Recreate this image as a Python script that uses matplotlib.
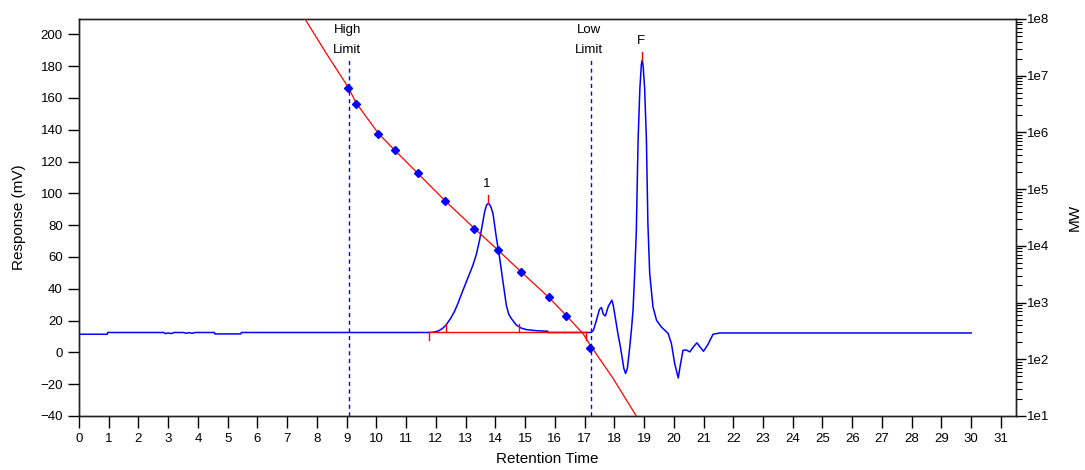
import numpy as np
import matplotlib
matplotlib.use("Agg")
import matplotlib.pyplot as plt
from matplotlib.ticker import LogLocator, NullFormatter, FuncFormatter

plt.rcParams['font.family'] = ['Liberation Sans', 'DejaVu Sans']
plt.rcParams['font.size'] = 9.5

# chromatogram trace (retention time in min, response in mV)
trace_t = [0.0, 0.95, 0.97, 2.85, 2.9, 3.0, 3.1, 3.2, 3.5, 3.6, 3.7, 3.8, 3.9, 4.55, 4.57,
           5.44, 5.46, 11.8, 11.95, 12.1, 12.22, 12.34, 12.5, 12.62, 12.74, 12.9, 13.07,
           13.24, 13.36, 13.47, 13.56, 13.64, 13.71, 13.77, 13.84, 13.92, 14.03, 14.14,
           14.25, 14.37, 14.45, 14.54, 14.71, 14.88, 15.05, 15.4, 15.76, 15.78,
           17.22, 17.3, 17.4, 17.5, 17.57, 17.63, 17.7, 17.8, 17.92, 17.97,
           18.05, 18.12, 18.2, 18.26, 18.32, 18.38, 18.44, 18.52, 18.58, 18.63, 18.69,
           18.74, 18.8, 18.86, 18.91, 18.94, 18.97, 19.02, 19.08, 19.13, 19.19, 19.3,
           19.42, 19.58, 19.81, 19.92, 20.03, 20.15, 20.22, 20.31, 20.42, 20.54, 20.66,
           20.78, 20.9, 21.0, 21.15, 21.32, 21.55, 30.0]
trace_mv = [11.4, 11.4, 12.5, 12.5, 11.8, 12.2, 11.8, 12.5, 12.5, 12.0, 12.4, 12.0, 12.5,
            12.5, 11.6, 11.6, 12.5, 12.5, 12.8, 13.6, 15.0, 17.1, 21.5, 25.5, 30.7, 38.5,
            46.5, 54.5, 61.5, 70.6, 80.0, 88.4, 92.8, 93.7, 92.0, 87.4, 72.7, 60.0, 45.3,
            29.6, 24.0, 21.2, 17.1, 15.2, 14.3, 13.6, 13.3, 12.5,
            12.5, 14.0, 20.2, 27.0, 28.2, 24.0, 22.9, 29.0, 32.8, 29.0, 20.0, 11.9,
            4.0, -2.9, -10.0, -13.3, -10.0, 3.4, 15.0, 26.5, 51.7, 75.8, 133.5, 166.0,
            181.0, 183.8, 180.0, 166.0, 133.5, 81.0, 49.7, 28.6, 20.2, 16.0, 11.9, 5.6,
            -7.0, -16.1, -8.0, 1.3, 1.5, 0.3, 3.5, 6.0, 3.0, 0.7, 5.0, 11.4, 12.2, 12.2]

# calibration standards (retention time, molecular weight)
std_t = [9.06, 9.32, 10.07, 10.61, 11.39, 12.32, 13.29, 14.08, 14.85, 15.80, 16.39, 17.19]
std_mw = [6.0e6, 3.2e6, 9.3e5, 4.9e5, 1.9e5, 6.2e4, 2.0e4, 8.5e3, 3.5e3, 1.23e3, 5.9e2, 1.55e2]

# calibration fit line, log10(MW) against retention time
cal_t = [7.60, 8.32, 9.06, 9.32, 10.07, 10.61, 11.39, 12.32, 13.29, 14.08, 14.85, 15.80,
         16.39, 16.95, 17.19, 17.95, 18.74]
cal_logmw = [8.00, 7.39, 6.79, 6.52, 5.98, 5.69, 5.28, 4.79, 4.31, 3.93, 3.55, 3.09,
             2.77, 2.45, 2.25, 1.67, 1.00]

# peak integration marks
base_start, base_end, base_level = 11.76, 17.06, 12.5
drop_lines = [12.34, 14.81]
peak_names = ["1", "F"]
peak_t = [13.77, 18.94]
peak_top = [93.7, 183.8]

# molecular weight limits
limit_names = ["High", "Low"]
limit_t = [9.07, 17.2]

fig = plt.figure(figsize=(10.85, 4.70), dpi=100)
ax = fig.add_axes([0.0728, 0.1149, 0.8634, 0.8447])

ax.plot(trace_t, trace_mv, color='#0000ff', lw=1.1, zorder=3)

# baseline and drop lines
ax.plot([base_start, base_end], [base_level, base_level], color='#ff0000', lw=1.0, zorder=4)
ax.plot([base_start, base_start], [base_level, base_level - 5], color='#ff0000', lw=1.0, zorder=4)
ax.plot([base_end, base_end], [base_level, base_level - 5], color='#ff0000', lw=1.0, zorder=4)
for t in drop_lines:
    ax.plot([t, t], [base_level, base_level + 5.5], color='#ff0000', lw=1.0, zorder=4)

# apex ticks and peak labels
for name, t, top in zip(peak_names, peak_t, peak_top):
    ax.plot([t, t], [top, top + 5], color='#ff0000', lw=1.0, zorder=4)
    ax.annotate(name, (t, top + 5), xytext=(-1, 4), textcoords='offset points',
                ha='center', va='bottom')

# limit markers
for name, t in zip(limit_names, limit_t):
    ax.plot([t, t], [-40, 185], color='#0000ff', lw=1.0, ls=(0, (3, 2.5)), zorder=2)
    ax.text(t - 0.05, 202.7, name, ha='center', va='center')
    ax.text(t - 0.05, 190.3, "Limit", ha='center', va='center')

ax.set_xlim(0, 31.5)
ax.set_ylim(-40, 209.6)
ax.set_xticks(range(0, 32))
ax.set_yticks(range(-40, 201, 20))
ax.tick_params(axis='x', direction='out', length=8.5, width=1, pad=4)
ax.tick_params(axis='y', direction='out', length=7.7, width=1, pad=4)
ax.set_xlabel("Retention Time", fontsize=11, labelpad=5)
ax.set_ylabel("Response (mV)", fontsize=11, labelpad=10)
ax.xaxis.get_offset_text().set_visible(False)
for s in ax.spines.values():
    s.set_color('#222222')
    s.set_linewidth(1.0)

ax2 = ax.twinx()
ax2.set_yscale('log')
ax2.set_ylim(10, 1e8)
ax2.plot(cal_t, [10 ** v for v in cal_logmw], color='#ff0000', lw=0.9, zorder=3)
ax2.plot(std_t, std_mw, ls='none', marker='D', ms=4.5, color='#0000ff', zorder=4)
ax2.yaxis.set_major_locator(LogLocator(base=10, numticks=10))
ax2.yaxis.set_minor_locator(LogLocator(base=10, subs=np.arange(2, 10), numticks=10))
ax2.yaxis.set_minor_formatter(NullFormatter())
ax2.yaxis.set_major_formatter(FuncFormatter(lambda v, p: "1e%d" % round(np.log10(v))))
ax2.tick_params(axis='y', which='major', direction='out', length=7, width=1, pad=1)
ax2.tick_params(axis='y', which='minor', direction='out', length=4, width=0.8)
ax2.set_ylabel("MW", fontsize=11, labelpad=13)
ax2.xaxis.get_offset_text().set_visible(False)
for s in ax2.spines.values():
    s.set_color('#222222')
    s.set_linewidth(1.0)

fig.savefig("out.png", dpi=100)
